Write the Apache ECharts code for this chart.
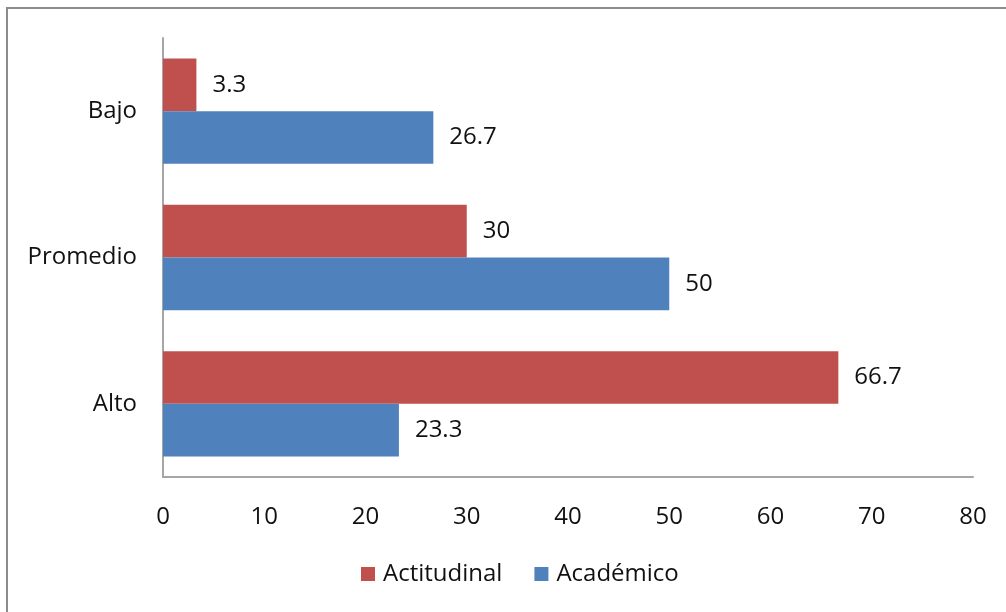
<!DOCTYPE html>
<html>
<head>
<meta charset="utf-8">
<script src="https://cdn.jsdelivr.net/npm/echarts@6/dist/echarts.min.js"></script>
<style>
html,body{margin:0;padding:0;background:#fff;}
#frame{position:absolute;left:6px;top:7px;width:1000px;height:605px;border-left:2px solid #8c8c8c;border-top:2px solid #8c8c8c;box-sizing:border-box;}
#chart{position:absolute;left:0;top:0;width:1006px;height:612px;}
</style>
</head>
<body>
<div id="frame"></div>
<div id="chart"></div>
<script>
var categories = ['Alto', 'Promedio', 'Bajo'];
var actitudinal = [66.7, 30, 3.3];
var academico = [23.3, 50, 26.7];
var xTicks = [0, 10, 20, 30, 40, 50, 60, 70, 80];

var FONT = 'Open Sans';
var FS = 24;
var chart = echarts.init(document.getElementById('chart'), null, {renderer: 'canvas'});
var labelStyle = {show: true, position: 'right', distance: 16, color: '#111', fontFamily: FONT, fontSize: FS};
chart.setOption({
  animation: false,
  backgroundColor: 'transparent',
  grid: {left: 163, right: 33, top: 38, bottom: 135, containLabel: false},
  legend: {
    data: ['Actitudinal', 'Académico'],
    bottom: 21, left: 356,
    itemWidth: 14, itemHeight: 14, itemGap: 32,
    icon: 'rect',
    textStyle: {fontFamily: FONT, fontSize: FS, color: '#111', padding: [0, 0, 0, 3]}
  },
  xAxis: {
    type: 'value', min: 0, max: 80, interval: 10,
    axisLine: {show: true, lineStyle: {color: '#a6a6a6', width: 2}},
    axisTick: {show: false},
    splitLine: {show: false},
    axisLabel: {fontFamily: FONT, fontSize: FS, color: '#111', margin: 28}
  },
  yAxis: {
    type: 'category', data: categories,
    axisLine: {show: true, lineStyle: {color: '#a6a6a6', width: 2}},
    axisTick: {show: false},
    axisLabel: {fontFamily: FONT, fontSize: FS, color: '#111', margin: 26}
  },
  series: [
    {name: 'Actitudinal', type: 'bar', data: actitudinal, barGap: 0, barCategoryGap: '28%',
     itemStyle: {color: '#c0504d'}, label: labelStyle},
    {name: 'Académico', type: 'bar', data: academico, barGap: 0, barCategoryGap: '28%',
     itemStyle: {color: '#4f81bd'}, label: labelStyle}
  ]
});
</script>
</body>
</html>
